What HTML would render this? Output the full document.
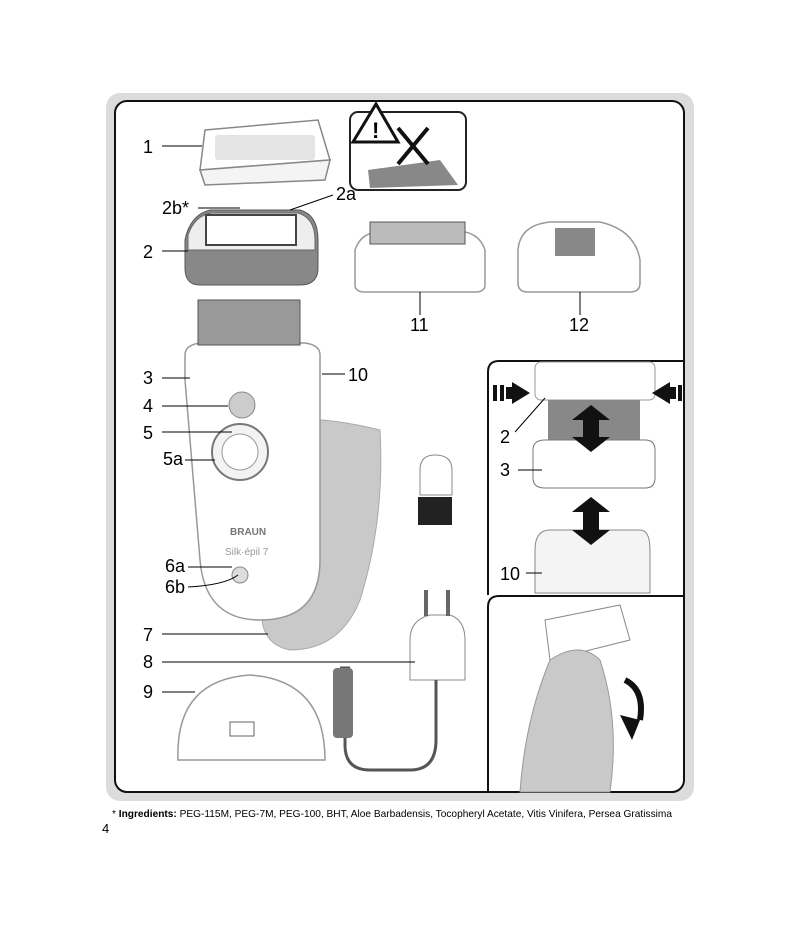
<!DOCTYPE html>
<html><head><meta charset="utf-8"><style>
html,body{margin:0;padding:0;background:#fff;}
body{width:800px;height:925px;position:relative;overflow:hidden;font-family:"Liberation Sans",sans-serif;}
svg{position:absolute;left:0;top:0;}
.t{font-family:"Liberation Sans",sans-serif;font-size:18px;fill:#000;}
</style></head><body>
<svg width="800" height="925" viewBox="0 0 800 925">
<rect x="106" y="93" width="588" height="708" rx="14" fill="#dcdcdc"/>
<rect x="115" y="101" width="569" height="691" rx="12" fill="#fff" stroke="#111" stroke-width="2"/>
<path d="M488 595 V372 Q488 361 499 361 H684" fill="none" stroke="#111" stroke-width="2"/>
<path d="M488 792 V607 Q488 596 499 596 H684" fill="none" stroke="#111" stroke-width="2"/>
<path d="M205 130 L318 120 L330 160 L200 170 Z" fill="#fff" stroke="#888" stroke-width="1.5"/>
<path d="M200 170 L330 160 L325 180 L205 185 Z" fill="#f4f4f4" stroke="#888" stroke-width="1.5"/>
<rect x="215" y="135" width="100" height="25" rx="3" fill="#bbb" opacity=".4"/>
<rect x="350" y="112" width="116" height="78" rx="8" fill="#fff" stroke="#222" stroke-width="2"/>
<path d="M368 170 L440 160 L458 185 L370 188 Z" fill="#888"/>
<path d="M353 142 L376 104 L398 142 Z" fill="#fff" stroke="#111" stroke-width="3"/>
<text x="372" y="138" font-size="22" font-weight="bold">!</text>
<path d="M398 128 L428 164 M428 128 L398 164" stroke="#111" stroke-width="4"/>
<path d="M185 240 Q190 215 210 210 H300 Q318 215 318 240 V268 Q318 285 300 285 H200 Q185 285 185 268 Z" fill="#888" stroke="#555"/>
<path d="M188 235 Q195 215 212 213 H298 Q315 218 315 240 V250 H188 Z" fill="#eee" stroke="#666"/>
<rect x="206" y="215" width="90" height="30" fill="#fff" stroke="#444" stroke-width="2"/>
<path d="M355 250 Q360 235 375 232 H465 Q480 235 485 250 V285 Q485 292 475 292 H365 Q355 292 355 285 Z" fill="#fff" stroke="#999" stroke-width="1.5"/>
<rect x="370" y="222" width="95" height="22" fill="#bbb" stroke="#555"/>
<path d="M518 250 Q520 225 550 222 H600 Q635 230 640 260 V283 Q640 292 630 292 H528 Q518 292 518 283 Z" fill="#fff" stroke="#999" stroke-width="1.5"/>
<rect x="555" y="228" width="40" height="28" fill="#888"/>
<path d="M270 420 Q320 415 380 430 Q385 520 360 600 Q340 650 290 650 Q265 645 262 620 Z" fill="#c9c9c9" stroke="#aaa"/>
<path d="M185 355 Q185 345 200 343 H305 Q320 345 320 355 V560 Q320 620 260 620 Q205 620 200 560 L185 380 Z" fill="#fff" stroke="#999" stroke-width="1.5"/>
<path d="M198 300 H300 V345 H198 Z" fill="#999" stroke="#555"/>
<circle cx="242" cy="405" r="13" fill="#ccc" stroke="#888"/>
<circle cx="240" cy="452" r="28" fill="#f3f3f3" stroke="#777" stroke-width="2"/>
<circle cx="240" cy="452" r="18" fill="#fff" stroke="#999"/>
<circle cx="240" cy="575" r="8" fill="#ddd" stroke="#888"/>
<text x="230" y="535" font-size="10" fill="#777" font-weight="bold">BRAUN</text>
<text x="225" y="555" font-size="10" fill="#999">Silk·épil 7</text>
<path d="M420 470 Q420 455 435 455 Q452 455 452 470 V495 H420 Z" fill="#fff" stroke="#888"/>
<rect x="418" y="497" width="34" height="28" fill="#222"/>
<path d="M410 640 Q410 620 430 615 H450 Q465 620 465 640 V680 H410 Z" fill="#fff" stroke="#888"/>
<rect x="424" y="590" width="4" height="26" fill="#666"/><rect x="446" y="590" width="4" height="26" fill="#666"/>
<path d="M436 680 V740 Q436 770 410 770 H370 Q345 770 345 745 V690 M340 668 H350" fill="none" stroke="#555" stroke-width="3"/>
<rect x="333" y="668" width="20" height="70" rx="4" fill="#777"/>
<path d="M178 760 Q175 680 250 675 Q325 680 325 760 Z" fill="#fff" stroke="#999" stroke-width="1.5"/>
<rect x="230" y="722" width="24" height="14" fill="#fff" stroke="#666"/>
<rect x="535" y="362" width="120" height="38" rx="6" fill="#fff" stroke="#999"/>
<rect x="548" y="400" width="92" height="45" fill="#888"/>
<path d="M533 450 Q533 440 545 440 H645 Q655 440 655 450 V478 Q655 488 645 488 H545 Q533 488 533 478 Z" fill="#fff" stroke="#777"/>
<path d="M535 550 Q535 530 550 530 H640 Q650 530 650 550 V593 H535 Z" fill="#f4f4f4" stroke="#888"/>
<g fill="#111">
<path d="M512 382 L530 393 L512 404 Z"/><rect x="493" y="385" width="4" height="16"/><rect x="500" y="385" width="4" height="16"/><rect x="506" y="387" width="8" height="12"/>
<path d="M670 382 L652 393 L670 404 Z"/><rect x="678" y="385" width="4" height="16"/><rect x="670" y="387" width="6" height="12"/>
<path d="M591 405 L610 420 H572 Z M591 452 L610 437 H572 Z"/><rect x="583" y="418" width="16" height="22"/>
<path d="M591 497 L610 512 H572 Z M591 545 L610 530 H572 Z"/><rect x="583" y="510" width="16" height="22"/>
</g>
<path d="M545 620 L620 605 L630 640 L550 660 Z" fill="#fff" stroke="#888"/>
<path d="M550 660 Q580 640 600 660 Q620 720 610 792 H520 Q525 720 550 660 Z" fill="#c9c9c9" stroke="#999"/>
<path d="M625 680 Q645 690 640 720" fill="none" stroke="#111" stroke-width="6"/>
<path d="M620 715 L640 720 L632 740 Z" fill="#111"/>
<g stroke="#000" stroke-width="1" fill="none">
<path d="M162 146 H202"/><path d="M198 208 H240"/><path d="M333 195 L290 210"/><path d="M162 251 H188"/>
<path d="M420 292 V315"/><path d="M580 292 V315"/>
<path d="M162 378 H190"/><path d="M162 406 H228"/><path d="M162 432 H232"/><path d="M185 460 H215"/>
<path d="M322 374 H345"/><path d="M188 567 H232"/><path d="M188 587 Q225 585 238 575"/>
<path d="M162 634 H268"/><path d="M162 662 H415"/><path d="M162 692 H195"/>
<path d="M515 432 L545 398"/><path d="M518 470 H542"/><path d="M526 573 H542"/>
</g>
<g class="t">
<text x="143" y="153">1</text><text x="162" y="214">2b*</text><text x="336" y="200">2a</text>
<text x="143" y="258">2</text><text x="410" y="331">11</text><text x="569" y="331">12</text>
<text x="143" y="384">3</text><text x="143" y="412">4</text><text x="143" y="439">5</text>
<text x="163" y="465">5a</text><text x="348" y="381">10</text>
<text x="165" y="572">6a</text><text x="165" y="593">6b</text>
<text x="143" y="641">7</text><text x="143" y="668">8</text><text x="143" y="698">9</text>
<text x="500" y="443">2</text><text x="500" y="476">3</text><text x="500" y="580">10</text>
</g>
<text x="112" y="817" font-size="10.5" textLength="560" lengthAdjust="spacingAndGlyphs">* <tspan font-weight="bold">Ingredients:</tspan> PEG-115M, PEG-7M, PEG-100, BHT, Aloe Barbadensis, Tocopheryl Acetate, Vitis Vinifera, Persea Gratissima</text>
<text x="102" y="833" font-size="13">4</text>
</svg>
</body></html>
